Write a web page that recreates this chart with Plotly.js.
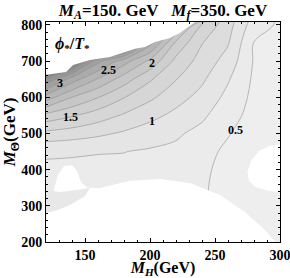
<!DOCTYPE html>
<html><head><meta charset="utf-8">
<script src="https://cdn.plot.ly/plotly-3.0.1.min.js"></script>
<style>html,body{margin:0;padding:0;background:#fff}</style>
</head><body><div id="chart" style="width:290px;height:278px"></div>
<script>
const mH = [120,140,160,180,200,220,240,260,280,300];
const mTheta = [200,250,300,350,400,450,500,550,600,650,700,750,800,850];
const phiOverT = [
  [0.60,0.60,0.60,0.58,0.56,0.55,0.52,0.40,0.40,0.38],
  [0.62,0.62,0.62,0.60,0.58,0.56,0.52,0.42,0.40,0.38],
  [0.65,0.65,0.64,0.63,0.60,0.58,0.52,0.43,0.40,0.38],
  [0.68,0.68,0.67,0.66,0.64,0.61,0.52,0.44,0.40,0.38],
  [0.71,0.71,0.70,0.69,0.67,0.64,0.53,0.45,0.40,0.38],
  [0.78,0.77,0.76,0.755,0.72,0.69,0.55,0.47,0.40,0.38],
  [1.18,1.125,1.05,0.965,0.88,0.79,0.67,0.51,0.42,0.39],
  [1.68,1.53,1.375,1.22,1.07,0.94,0.80,0.58,0.43,0.395],
  [2.38,2.00,1.76,1.51,1.30,1.09,0.925,0.68,0.44,0.40],
  [3.23,2.63,2.23,1.875,1.53,1.26,1.04,0.775,0.46,0.41],
  [4.20,3.80,2.83,2.36,1.94,1.43,1.15,0.90,0.48,0.42],
  [5.00,4.80,4.50,3.80,2.60,1.69,1.26,1.02,0.49,0.44],
  [5.50,5.50,5.30,5.00,4.20,2.30,1.47,1.10,0.62,0.46],
  [6.00,6.00,6.00,5.80,5.20,4.00,2.60,1.17,0.78,0.48]
];
// regions with no solution (left white)
const topEdgeX = [120,130.8,135.4,140.8,153.8,169.2,176.9,188.5,196.2,203.8,215.4,223.1,234.6,240,120];
const topEdgeY = [662,667,670,689,703,711.5,720,734,739,753,764,778,808,830,830];
const bottomEdgeX = [120,120,123,126,129,134,140,144,147,152,161.5,184.6,207.7,230.8,253.8,273,288.5,297.7,120];
const bottomEdgeY = [195,283,300,340,385,410,412,395,365,350,349,369,374,363,330,283,233,195,195];
const rightBlobX = [300.5,292,284,278,275,276,281,290,300.5];
const rightBlobY = [470,466,452,425,395,370,352,342,338];
// small solution patch inside the lower-left white region
const patchX = [119.5,130.8,142.3,153.8,150,138.5,126.9,119.5];
const patchY = [344,338,343,349,327,302,286,280];
// tick labels
const xTickVals = [150,200,250,300];
const xTickText = ['150','200','250','300'];
const yTickVals = [200,300,400,500,600,700,800];
const yTickText = ['200','300','400','500','600','700','800'];
// contour labels
const labelText = ['3','2.5','2','1.5','1','0.5'];
const labelX = [130.8,167.7,201.5,138.5,201.5,266];
const labelY = [639.6,675.6,695,545.6,534.6,510];

const serif = 'Liberation Serif, Times New Roman, serif';
const bold = s => '<b>' + s + '</b>';
const traces = [
  {type:'contour', x:mH, y:mTheta, z:phiOverT,
   contours:{start:0.5,end:4.75,size:0.25,coloring:'fill'},
   colorscale:[[0,'rgb(238,238,238)'],[0.0588,'rgb(232,232,232)'],[0.118,'rgb(225,225,225)'],
     [0.176,'rgb(218,218,218)'],[0.294,'rgb(203,203,203)'],[0.412,'rgb(186,186,186)'],
     [0.529,'rgb(166,166,166)'],[0.647,'rgb(143,143,143)'],[0.765,'rgb(118,118,118)'],[1,'rgb(70,70,70)']],
   zmin:0.25, zmax:4.75,
   showscale:false, line:{color:'rgb(145,145,145)',width:0.6}, hoverinfo:'skip'},
  {type:'scatter', mode:'lines', x:topEdgeX, y:topEdgeY, fill:'toself', fillcolor:'#fff',
   line:{width:0}, hoverinfo:'skip', showlegend:false},
  {type:'scatter', mode:'lines', x:bottomEdgeX, y:bottomEdgeY, fill:'toself', fillcolor:'#fff',
   line:{width:0}, hoverinfo:'skip', showlegend:false},
  {type:'scatter', mode:'lines', x:rightBlobX, y:rightBlobY, fill:'toself', fillcolor:'#fff',
   line:{width:0}, hoverinfo:'skip', showlegend:false},
  {type:'scatter', mode:'lines', x:patchX, y:patchY, fill:'toself', fillcolor:'rgb(232,232,232)',
   line:{width:0}, hoverinfo:'skip', showlegend:false}
];
const annotations = labelText.map((t,i)=>({x:labelX[i], y:labelY[i], text:bold(t), showarrow:false,
  font:{family:serif, size:12, color:'#000', weight:700}}));
annotations.push({x:140, y:747, text:bold('<i>ϕ</i><sub>*</sub>/<i>T</i><sub>*</sub>'), showarrow:false,
  font:{family:serif, size:16, color:'#000', weight:700}});
const axisCommon = {showline:true, linecolor:'#000', linewidth:1, mirror:'allticks', ticks:'inside',
  ticklen:4, tickcolor:'#000', showgrid:false, zeroline:false, tickmode:'array',
  ticklabeloverflow:'allow', tickfont:{family:serif, size:14, color:'#000', weight:700}};
const layout = {
  width:290, height:278, margin:{l:46, r:10, t:22, b:36},
  paper_bgcolor:'#fff', plot_bgcolor:'#fff', showlegend:false,
  title:{text:bold('<i>M</i><sub><i>A</i></sub>=150. GeV\u00a0\u00a0\u00a0<i>M</i><sub><i>f</i></sub>=350. GeV'),
    font:{family:serif, size:17, color:'#000', weight:700}, x:0.5, xref:'paper', y:0.965, yref:'container', yanchor:'middle'},
  xaxis:Object.assign({}, axisCommon, {range:[120,300], tickvals:xTickVals, ticktext:xTickText.map(bold),
    minor:{dtick:10, ticks:'inside', ticklen:2, tickcolor:'#000'},
    title:{text:bold('<i>M</i><sub><i>H</i></sub>(GeV)'), font:{family:serif, size:16, color:'#000', weight:700}, standoff:9}}),
  yaxis:Object.assign({}, axisCommon, {range:[200,808], tickvals:yTickVals, ticktext:yTickText.map(bold),
    minor:{dtick:20, ticks:'inside', ticklen:2, tickcolor:'#000'},
    title:{text:bold('<i>M</i><sub>Θ</sub>(GeV)'), font:{family:serif, size:17, color:'#000', weight:700}, standoff:3}}),
  annotations:annotations
};
Plotly.newPlot('chart', traces, layout, {staticPlot:true, displayModeBar:false});
</script></body></html>
